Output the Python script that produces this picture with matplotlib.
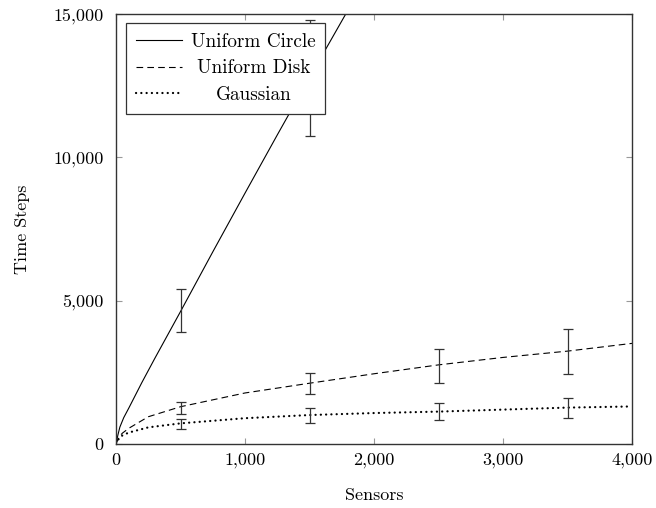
import numpy as np
import matplotlib.pyplot as plt
from matplotlib.ticker import FuncFormatter

plt.rcParams['font.family'] = ['cmr10', 'DejaVu Serif']
plt.rcParams['axes.formatter.use_mathtext'] = True
plt.rcParams['font.size'] = 13
plt.rcParams['lines.scale_dashes'] = False

# mean curves (sensors -> time steps)
circle_x = [0, 15, 30, 60, 100, 200, 300, 500, 750, 1000, 1250, 1500, 1800, 2000]
circle_y = [0, 320, 590, 920, 1260, 2140, 2980, 4620, 6700, 8750, 10780, 12780, 15150, 16800]

disk_x = [0, 25, 50, 100, 250, 500, 1000, 1500, 2000, 2500, 3000, 3500, 4000]
disk_y = [0, 260, 380, 550, 950, 1300, 1780, 2120, 2450, 2760, 3020, 3240, 3510]

gauss_x = [0, 25, 50, 100, 250, 500, 1000, 1500, 2000, 2500, 3000, 3500, 4000]
gauss_y = [0, 210, 300, 400, 580, 720, 900, 1010, 1080, 1130, 1200, 1270, 1310]

# measured spread at sample sizes (low / high)
circle_err_x = [500, 1500]
circle_low = [3895, 10743]
circle_high = [5395, 14790]

disk_err_x = [500, 1500, 2500, 3500]
disk_low = [1046, 1744, 2140, 2442]
disk_high = [1476, 2488, 3325, 4000]

gauss_err_x = [500, 1500, 2500, 3500]
gauss_low = [535, 744, 837, 907]
gauss_high = [884, 1244, 1419, 1616]

fig = plt.figure(figsize=(6.56, 5.08), dpi=100)
ax = fig.add_axes([116 / 656, 64 / 508, 516 / 656, 430 / 508])

ax.plot(circle_x, circle_y, color='black', lw=0.8, label='Uniform Circle')
ax.plot(disk_x, disk_y, color='black', lw=0.8, dashes=(4.8, 3.0), label='Uniform Disk')
ax.plot(gauss_x, gauss_y, color='black', lw=1.6, dashes=(0.1, 3.7),
        dash_capstyle='round', label='Gaussian')


def draw_bars(xs, low, high):
    low = np.array(low, dtype=float)
    high = np.array(high, dtype=float)
    mid = (low + high) / 2
    ax.errorbar(xs, mid, yerr=[mid - low, high - mid], fmt='none',
                ecolor='#333333', elinewidth=0.9, capsize=3.6, capthick=0.9)


draw_bars(circle_err_x, circle_low, circle_high)
draw_bars(disk_err_x, disk_low, disk_high)
draw_bars(gauss_err_x, gauss_low, gauss_high)

ax.set_xlim(0, 4000)
ax.set_ylim(0, 15000)
ax.set_xticks([0, 1000, 2000, 3000, 4000])
ax.set_yticks([0, 5000, 10000, 15000])
fmt = FuncFormatter(lambda v, p: f'{v:,.0f}')
ax.xaxis.set_major_formatter(fmt)
ax.yaxis.set_major_formatter(fmt)
ax.tick_params(direction='in', top=True, right=True, length=4.5, width=0.8,
               color='#999999')
ax.tick_params(axis='x', pad=6)
ax.tick_params(axis='y', pad=9)
for s in ax.spines.values():
    s.set_color('#333333')
    s.set_linewidth(1.0)

ax.set_xlabel('Sensors', labelpad=14)
ax.set_ylabel('Time Steps', labelpad=17)

leg = ax.legend(loc='upper left', bbox_to_anchor=(0.0194, 0.979),
                borderaxespad=0, fancybox=False, framealpha=1,
                edgecolor='#333333', handlelength=2.4, handletextpad=0.5,
                labelspacing=0.46, borderpad=0.5, fontsize=13.8)
leg.get_frame().set_linewidth(0.9)

# centre the legend labels within the widest label
fig.canvas.draw()
renderer = fig.canvas.get_renderer()
widths = [t.get_window_extent(renderer).width for t in leg.get_texts()]
wmax = max(widths)
for t, w in zip(leg.get_texts(), widths):
    t.set_x((wmax - w) / 2)

fig.savefig('out.png', dpi=100)
